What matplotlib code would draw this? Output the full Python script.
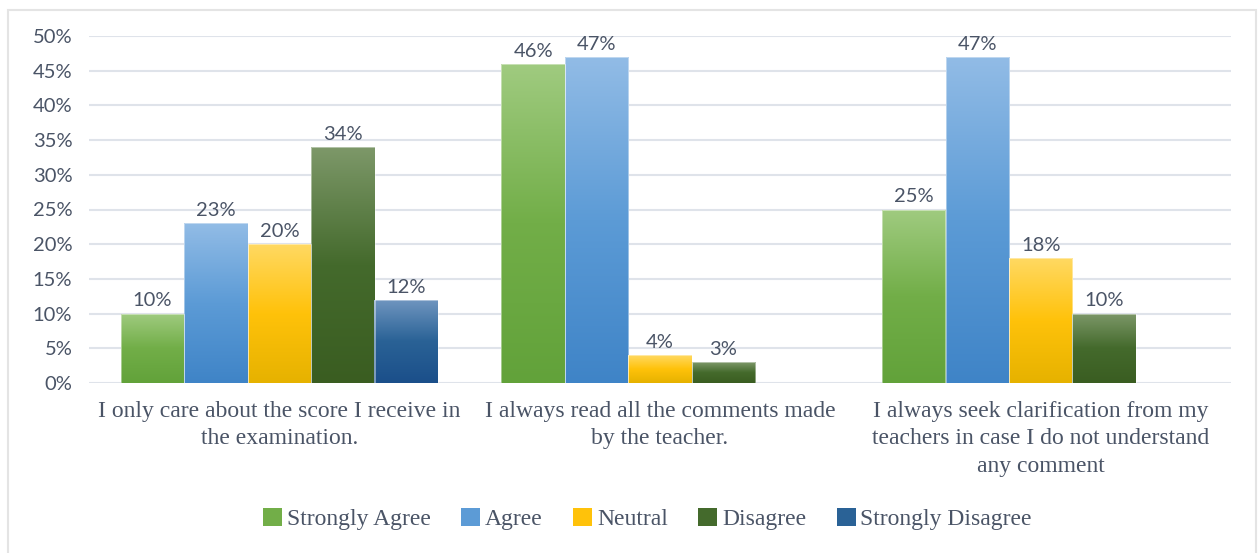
import numpy as np
import matplotlib
matplotlib.use("Agg")
import matplotlib.pyplot as plt
from matplotlib.colors import LinearSegmentedColormap
from matplotlib.patches import Patch, Rectangle
from matplotlib.ticker import MultipleLocator, PercentFormatter

# data
categories = ["I only care about the score I receive in\nthe examination.",
              "I always read all the comments made\nby the teacher.",
              "I always seek clarification from my\nteachers in case I do not understand\nany comment"]
series = ["Strongly Agree", "Agree", "Neutral", "Disagree", "Strongly Disagree"]
strongly_agree = [10, 46, 25]
agree = [23, 47, 47]
neutral = [20, 4, 18]
disagree = [34, 3, 10]
strongly_disagree = [12, 0, 0]
values = [strongly_agree, agree, neutral, disagree, strongly_disagree]

# gradient colours: top, middle, bottom
grads = [("#a0cb80", "#72ae48", "#62a23a"),
         ("#92bce6", "#5c9bd6", "#3f84c7"),
         ("#ffd962", "#ffc20a", "#e6b200"),
         ("#7d9869", "#446a2c", "#3a5d21"),
         ("#7096c0", "#2a6296", "#1b4f8a")]
text_col = "#4a5466"

plt.rcParams["font.serif"] = ["Liberation Serif", "DejaVu Serif"]
plt.rcParams["font.sans-serif"] = ["Lato", "DejaVu Sans"]
plt.rcParams["font.family"] = "sans-serif"

fig = plt.figure(figsize=(12.58, 5.53), dpi=100)
ax = fig.add_axes([89/1258, 1 - 383/553, (1231 - 89)/1258, (383 - 36)/553])

x = np.arange(len(categories))
width = 1/6
grad = np.linspace(0, 1, 256).reshape(-1, 1)

for i, (name, vals) in enumerate(zip(series, values)):
    cmap = LinearSegmentedColormap.from_list(name, list(grads[i]))
    pos = x + (i - 2) * width
    bars = ax.bar(pos, vals, width, color="none", edgecolor="none", zorder=2)
    for b, v in zip(bars, vals):
        if v <= 0:
            continue
        x0 = b.get_x()
        im = ax.imshow(grad, extent=[x0, x0 + width, 0, v], origin="upper",
                       aspect="auto", cmap=cmap, zorder=2)
        im.set_clip_path(b)
        ax.add_patch(Rectangle((x0, 0), width, v, fill=False,
                               edgecolor="#ffffff", lw=0.6, alpha=0.5, zorder=3))
        ax.annotate(f"{v}%", (x0 + width/2, v), xytext=(0, 3),
                    textcoords="offset points", ha="center", va="bottom",
                    fontsize=14.5, color=text_col, zorder=4)

ax.set_xlim(-0.5, 2.5)
ax.set_ylim(0, 50)
ax.yaxis.set_major_locator(MultipleLocator(5))
ax.yaxis.set_major_formatter(PercentFormatter(decimals=0))
ax.set_xticks(x)
ax.set_xticklabels(categories, fontsize=17, family="serif", color=text_col,
                   linespacing=1.4)
for lab in ax.get_yticklabels():
    lab.set_fontsize(14.5)
    lab.set_color(text_col)
ax.tick_params(axis="both", length=0)
ax.tick_params(axis="y", pad=12)
ax.tick_params(axis="x", pad=13)
ax.grid(axis="y", color="#dfe3ea", lw=1.5, zorder=0)
ax.set_axisbelow(True)
for s in ax.spines.values():
    s.set_visible(False)

handles = [Patch(facecolor=g[1], edgecolor="none") for g in grads]
fig.legend(handles, series, loc="center", bbox_to_anchor=(0.5147, 1 - 519/553),
           ncol=5, frameon=False, prop={"family": "serif", "size": 17},
           labelcolor=text_col, handlelength=0.8, handleheight=0.8,
           handletextpad=0.2, columnspacing=1.3)

fig.patches.append(Rectangle((8/1258, -0.05), (1256 - 8)/1258, 1.032,
                             transform=fig.transFigure, fill=False,
                             edgecolor="#e4e4e4", lw=1.5))

fig.savefig("out.png", dpi=100)
